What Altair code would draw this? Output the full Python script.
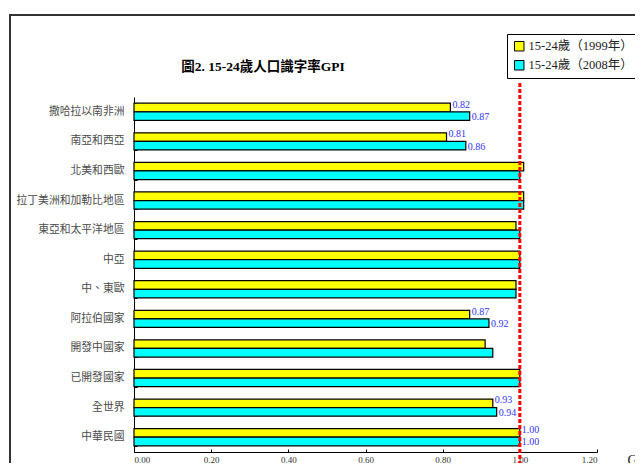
import altair as alt
import pandas as pd

categories = ["撒哈拉以南非洲", "南亞和西亞", "北美和西歐", "拉丁美洲和加勒比地區",
              "東亞和太平洋地區", "中亞", "中、東歐", "阿拉伯國家", "開發中國家",
              "已開發國家", "全世界", "中華民國"]
series_names = ["15-24歲（1999年）", "15-24歲（2008年）"]
gpi_1999 = [0.82, 0.81, 1.01, 1.01, 0.99, 1.00, 0.99, 0.87, 0.91, 1.00, 0.93, 1.00]
gpi_2008 = [0.87, 0.86, 1.00, 1.01, 1.00, 1.00, 0.99, 0.92, 0.93, 1.00, 0.94, 1.00]
show_label = [True, True, False, False, False, False, False, True, False, False, True, True]
x_ticks = [0.0, 0.2, 0.4, 0.6, 0.8, 1.0, 1.2]

rows = []
for i, c in enumerate(categories):
    for s, vals in zip(series_names, [gpi_1999, gpi_2008]):
        rows.append({"cat": c, "series": s, "value": vals[i],
                     "label": f"{vals[i]:.2f}" if show_label[i] else ""})
df = pd.DataFrame(rows)

W, H = 463, 355
SERIF = "Liberation Serif, 'Noto Sans CJK TC'"
y_scale = alt.Scale(paddingInner=0.42, paddingOuter=0.21)
x_scale = alt.Scale(domain=[0, 1.2], nice=False)
yoff = alt.YOffset("series:N", sort=series_names, scale=alt.Scale(paddingInner=0, paddingOuter=0))

y_enc = alt.Y("cat:N", sort=categories, scale=y_scale,
              axis=alt.Axis(title=None, labelFont="Noto Sans CJK TC", labelFontSize=10.8,
                            labelColor="#4a4a4a", labelPadding=10, ticks=False, grid=False,
                            domainColor="black", domainWidth=1, labelLimit=200))
x_enc = alt.X("value:Q", scale=x_scale,
              axis=alt.Axis(values=x_ticks, format=".2f", title="GPI", labelFont=SERIF,
                            labelFontSize=9, labelColor="#333333", ticks=False,
                            domainColor="black", labelPadding=3,
                            labelBaseline="top", grid=False,
                            titleFont=SERIF, titleFontSize=14, titleFontWeight="normal",
                            titleX=493, titleY=1, titleAlign="left", titleBaseline="top",
                            titleColor="#222222"))

bars = alt.Chart(df).mark_bar(stroke="black", strokeWidth=1.2).encode(
    y=y_enc, yOffset=yoff, x=x_enc,
    color=alt.Color("series:N", sort=series_names,
                    scale=alt.Scale(domain=series_names, range=["#ffff00", "#00ffff"]),
                    legend=alt.Legend(title=None, orient="none", legendX=373, legendY=-63,
                                      strokeColor="black", fillColor="white", padding=6,
                                      symbolType="square", symbolSize=90,
                                      symbolStrokeColor="black", symbolStrokeWidth=1,
                                      labelFont=SERIF, labelFontSize=12.5, labelColor="#222222",
                                      rowPadding=5, labelOffset=3)),
)

# inward-pointing tick marks (secondary axes pulled inside the plot)
inner_ticks = alt.Chart(df).mark_bar(opacity=0).encode(
    y=alt.Y("cat:N", sort=categories, scale=y_scale,
            axis=alt.Axis(orient="left", offset=-3, tickSize=3, tickColor="black",
                          labels=False, domain=False, title=None, tickBand="extent",
                          grid=False)),
    yOffset=yoff,
    x=alt.X("value:Q", scale=x_scale,
            axis=alt.Axis(orient="bottom", offset=-3, tickSize=3, tickColor="black",
                          labels=False, domain=False, title=None, values=x_ticks, grid=False)),
)

def label_layer(series, dy):
    return alt.Chart(df).transform_filter(alt.datum.series == series).mark_text(
        align="left", baseline="middle", dx=2, dy=dy, font=SERIF, fontSize=10,
        color="#3333ff").encode(
        y=alt.Y("cat:N", sort=categories, scale=y_scale, axis=None),
        yOffset=yoff,
        x=alt.X("value:Q", scale=x_scale, axis=None), text="label:N",
    )

frame = pd.DataFrame({"x": [1.0]})
red = alt.Chart(frame).mark_rule(color="#ff0000", strokeWidth=3, strokeDash=[4, 2]).encode(
    x=alt.X("x:Q", scale=x_scale, axis=None), y=alt.value(-14), y2=alt.value(H + 19))
left_border = alt.Chart(frame).mark_rule(color="#333333", strokeWidth=2).encode(
    x=alt.value(-124), y=alt.value(-82), y2=alt.value(H + 19))
top_border = alt.Chart(frame).mark_rule(color="#333333", strokeWidth=2).encode(
    x=alt.value(-125), x2=alt.value(W + 50), y=alt.value(-82))
title = alt.Chart(frame).mark_text(font=SERIF, fontSize=13.5, fontWeight="bold",
                                   align="center", baseline="middle", color="black").encode(
    x=alt.value(129), y=alt.value(-30), text=alt.value("圖2. 15-24歲人口識字率GPI"))

chart = alt.layer(bars, inner_ticks, label_layer(series_names[0], -3),
                  label_layer(series_names[1], 1), red, left_border, top_border, title
                  ).resolve_axis(x="independent", y="independent").properties(
    width=W, height=H,
    view=alt.ViewBackground(stroke="white", strokeWidth=0, strokeOpacity=0),
    autosize=alt.AutoSizeParams(type="none"),
    padding={"left": 126, "top": 89, "right": 38, "bottom": 11},
).configure_view(stroke="white", strokeOpacity=0, strokeWidth=0).configure_axis(
    grid=False).configure(background="white")

chart.save("out.html", embed_options={"renderer": "svg", "actions": False})
